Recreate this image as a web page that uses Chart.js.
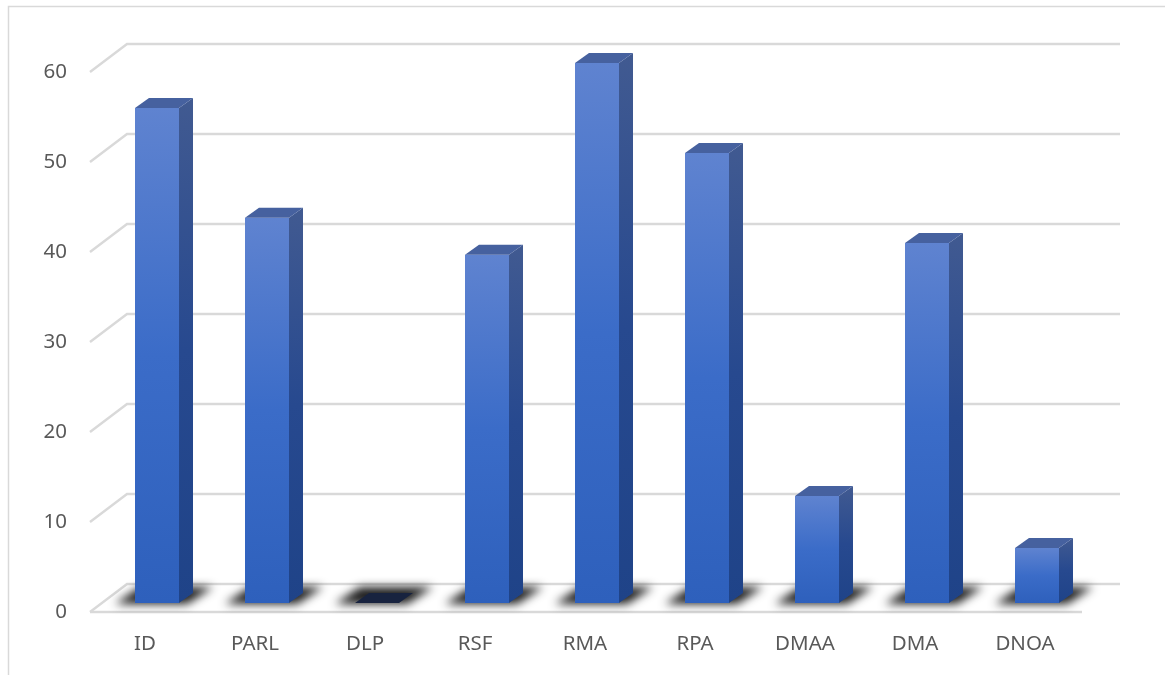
<!DOCTYPE html>
<html>
<head>
<meta charset="utf-8">
<title>Bar chart</title>
<script src="https://cdn.jsdelivr.net/npm/chart.js@4/dist/chart.umd.min.js"></script>
<style>
  html, body { margin: 0; padding: 0; background: #fff; overflow: hidden; }
  canvas { display: block; }
</style>
</head>
<body>
<canvas id="barChart" width="1165" height="675"></canvas>
<script>
const categories = ["ID", "PARL", "DLP", "RSF", "RMA", "RPA", "DMAA", "DMA", "DNOA"];
const seriesValues = [55, 42.8, 0, 38.7, 60, 50, 11.9, 40, 6.1];
const tickValues = [0, 10, 20, 30, 40, 50, 60];

// depth of the bar boxes and of the floor, in pixels
const BAR_DX = 14, BAR_DY = 10;
const WALL_DX = 25, WALL_DY = 19;
const FRONT_DX = 12, FRONT_DY = 9;
const GRID = "#d9d9d9";

function poly(ctx, pts) {
  ctx.beginPath();
  pts.forEach((p, i) => (i ? ctx.lineTo(p[0], p[1]) : ctx.moveTo(p[0], p[1])));
  ctx.closePath();
}

function vGrad(ctx, top, bottom, stops) {
  const g = ctx.createLinearGradient(0, top, 0, bottom);
  stops.forEach((s) => g.addColorStop(s[0], s[1]));
  return g;
}

// frame, gridlines on the wall, floor and the soft shadows under the bars
const floorPlugin = {
  id: "floorPlugin",
  beforeDatasetsDraw(chart) {
    const { ctx, chartArea, scales } = chart;
    const y0 = scales.y.getPixelForValue(0);
    const left = chartArea.left - FRONT_DX;
    const right = chartArea.right - FRONT_DX;

    ctx.save();
    ctx.strokeStyle = "#d9d9d9";
    ctx.lineWidth = 1.5;
    ctx.beginPath();
    ctx.moveTo(8.5, 675);
    ctx.lineTo(8.5, 6.5);
    ctx.lineTo(1165, 6.5);
    ctx.stroke();

    ctx.strokeStyle = GRID;
    ctx.lineWidth = 2.4;
    tickValues.forEach((v) => {
      const y = scales.y.getPixelForValue(v);
      ctx.beginPath();
      ctx.moveTo(left, y + FRONT_DY);
      ctx.lineTo(left + FRONT_DX + WALL_DX, y - WALL_DY);
      ctx.lineTo(right + FRONT_DX + WALL_DX + 3, y - WALL_DY);
      ctx.stroke();
    });
    ctx.beginPath();
    ctx.moveTo(left, y0 + FRONT_DY);
    ctx.lineTo(right + 2, y0 + FRONT_DY);
    ctx.stroke();

    ctx.filter = "blur(5px)";
    ctx.fillStyle = "rgba(15,15,15,0.95)";
    chart.getDatasetMeta(0).data.forEach((bar) => {
      const l = bar.x - bar.width / 2;
      const r = bar.x + bar.width / 2;
      poly(ctx, [
        [l - 20, y0 + 1],
        [r + 8, y0 + 1],
        [r + 34, y0 - 16],
        [l + 5, y0 - 16],
      ]);
      ctx.fill();
    });
    ctx.restore();
  },
};

// side and top faces of each box, taken from the bar elements
const boxPlugin = {
  id: "boxPlugin",
  afterDatasetsDraw(chart) {
    const { ctx, scales } = chart;
    const y0 = scales.y.getPixelForValue(0);
    ctx.save();
    chart.getDatasetMeta(0).data.forEach((bar, i) => {
      const l = bar.x - bar.width / 2;
      const r = bar.x + bar.width / 2;
      const t = bar.y;
      if (seriesValues[i] === 0) {
        poly(ctx, [[l, y0], [r, y0], [r + BAR_DX, y0 - BAR_DY], [l + BAR_DX, y0 - BAR_DY]]);
        ctx.fillStyle = "#18233f";
        ctx.fill();
        return;
      }
      poly(ctx, [[r, t], [r + BAR_DX, t - BAR_DY], [r + BAR_DX, y0 - BAR_DY], [r, y0]]);
      ctx.fillStyle = vGrad(ctx, t - BAR_DY, y0, [[0, "#415a91"], [0.5, "#27498f"], [1, "#1f4388"]]);
      ctx.fill();
      poly(ctx, [[l, t], [r, t], [r + BAR_DX, t - BAR_DY], [l + BAR_DX, t - BAR_DY]]);
      ctx.fillStyle = "#46619f";
      ctx.fill();
    });
    ctx.restore();
  },
};

new Chart(document.getElementById("barChart"), {
  type: "bar",
  data: {
    labels: categories,
    datasets: [
      {
        data: seriesValues,
        barPercentage: 0.8,
        categoryPercentage: 0.5,
        borderWidth: 0,
        backgroundColor(context) {
          const bar = context.element;
          const { ctx, chartArea, scales } = context.chart;
          if (!chartArea || !bar) return "#3a6bc6";
          const y0 = scales.y.getPixelForValue(0);
          const top = scales.y.getPixelForValue(context.raw);
          return vGrad(ctx, top, y0, [[0, "#5f83d0"], [0.5, "#3b6cc8"], [1, "#2e60bc"]]);
        },
      },
    ],
  },
  options: {
    responsive: false,
    animation: false,
    layout: { padding: { top: 63, right: 73, bottom: 0, left: 0 } },
    plugins: { legend: { display: false }, tooltip: { enabled: false } },
    scales: {
      x: {
        grid: { display: false, drawTicks: false },
        border: { display: false },
        afterFit(scale) { scale.height = 72; },
        ticks: {
          padding: 29,
          labelOffset: -12,
          color: "#595959",
          font: { family: "'Noto Sans'", size: 20.5 },
          maxRotation: 0,
        },
      },
      y: {
        min: 0,
        max: 60,
        grid: { display: false, drawTicks: false },
        border: { display: false },
        afterFit(scale) { scale.width = 102; },
        afterBuildTicks(scale) { scale.ticks = tickValues.map((v) => ({ value: v })); },
        ticks: {
          padding: 35,
          labelOffset: 9,
          color: "#595959",
          font: { family: "'Noto Sans'", size: 20.5 },
        },
      },
    },
  },
  plugins: [floorPlugin, boxPlugin],
});
</script>
</body>
</html>
